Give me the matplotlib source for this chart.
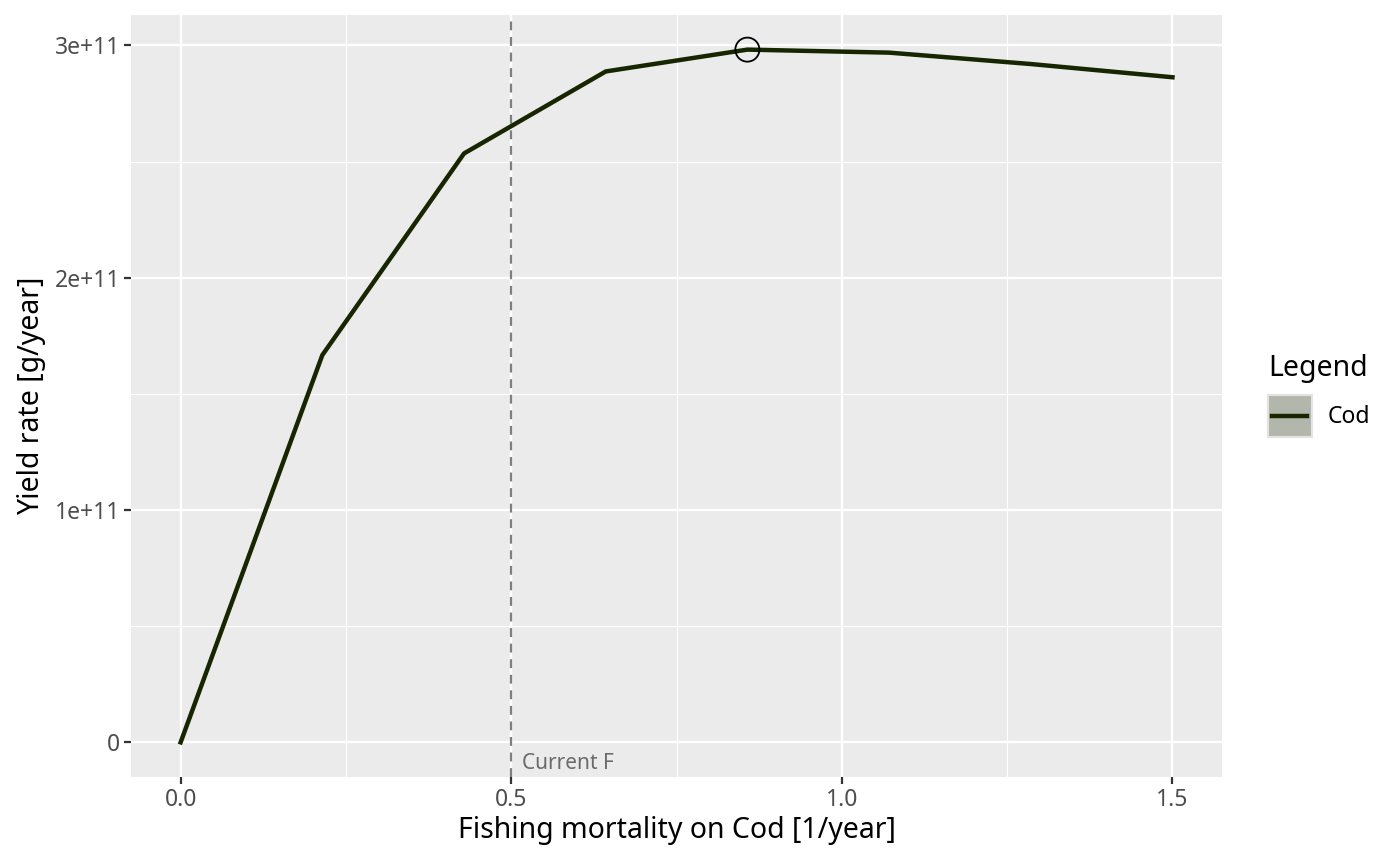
import numpy as np
import matplotlib.pyplot as plt
from matplotlib.ticker import FixedLocator
from matplotlib.patches import Rectangle
from matplotlib.lines import Line2D

plt.rcParams['font.family'] = ['Noto Sans', 'DejaVu Sans']

# yield curve for Cod
f_values = [0.0, 0.2143, 0.4286, 0.6429, 0.8571, 1.0714, 1.2857, 1.5]
yield_values = [0.0, 1.667e11, 2.535e11, 2.888e11, 2.982e11, 2.969e11, 2.920e11, 2.863e11]
current_f = 0.5
species = 'Cod'
line_col = '#172600'


# ggplot-like legend key: grey square with a short line in the middle
class KeyHandler:
    def legend_artist(self, legend, orig_handle, fontsize, handlebox):
        x0, y0 = -handlebox.xdescent, -handlebox.ydescent
        w, h = handlebox.width, handlebox.height
        tr = handlebox.get_transform()
        bg = Rectangle((x0, y0), w, h, facecolor='#b3b6ab', edgecolor='#e3e3e3',
                       lw=1.5, transform=tr)
        ln = Line2D([x0 + 0.1 * w, x0 + 0.9 * w], [y0 + h / 2, y0 + h / 2],
                    color=orig_handle.get_color(), lw=3.2, transform=tr)
        handlebox.add_artist(bg)
        handlebox.add_artist(ln)
        return bg


fig = plt.figure(figsize=(14, 8.66), dpi=100)
ax = fig.add_axes([0.0936, 0.1028, 0.7793, 0.8799])
ax.set_facecolor('#ebebeb')
for s in ax.spines.values():
    s.set_visible(False)

line, = ax.plot(f_values, yield_values, color=line_col, lw=3.2, zorder=3)
imax = int(np.argmax(yield_values))
ax.scatter([f_values[imax]], [yield_values[imax]], s=300, facecolors='none',
           edgecolors='black', linewidths=1.3, zorder=4)
ax.axvline(current_f, color='#7f7f7f', ls=(0, (4, 3)), lw=1.6, zorder=2.5)

# limits like ggplot (5% expansion)
xr = max(f_values) - min(f_values)
ax.set_xlim(min(f_values) - 0.05 * xr, max(f_values) + 0.05 * xr)
yr = max(yield_values) - min(yield_values)
ax.set_ylim(min(yield_values) - 0.05 * yr, max(yield_values) + 0.05 * yr)

ax.text(current_f + 0.016, ax.get_ylim()[0] + 0.004 * yr, 'Current F', color='#6b6b6b',
        fontsize=15, ha='left', va='bottom')

xticks = [0.0, 0.5, 1.0, 1.5]
yticks = [0, 1e11, 2e11, 3e11]
ylabels = ['0', '1e+11', '2e+11', '3e+11']
ax.set_xticks(xticks)
ax.set_xticklabels(['0.0', '0.5', '1.0', '1.5'])
ax.set_yticks(yticks)
ax.set_yticklabels(ylabels)
ax.xaxis.set_minor_locator(FixedLocator([0.25, 0.75, 1.25]))
ax.yaxis.set_minor_locator(FixedLocator([0.5e11, 1.5e11, 2.5e11]))
ax.grid(which='major', color='white', lw=1.7, zorder=0)
ax.grid(which='minor', color='white', lw=0.85, zorder=0)
ax.set_axisbelow(True)
ax.tick_params(which='major', length=5, width=1.6, color='#333333',
               labelsize=16.5, labelcolor='#4d4d4d', pad=3)
ax.tick_params(which='minor', length=0)

ax.set_xlabel('Fishing mortality on Cod [1/year]', fontsize=20.5, labelpad=3)
ax.set_ylabel('Yield rate [g/year]', fontsize=20.5, labelpad=6)

leg = ax.legend([line], [species], title='Legend',
                handler_map={Line2D: KeyHandler()},
                loc='upper left', bbox_to_anchor=(1.042, 0.555),
                frameon=False, fontsize=16.5, title_fontsize=20.5,
                handlelength=1.92, handleheight=2.5, handletextpad=0.7,
                borderaxespad=0, borderpad=0)
leg._legend_box.align = 'left'

fig.savefig('out.png', dpi=100)
